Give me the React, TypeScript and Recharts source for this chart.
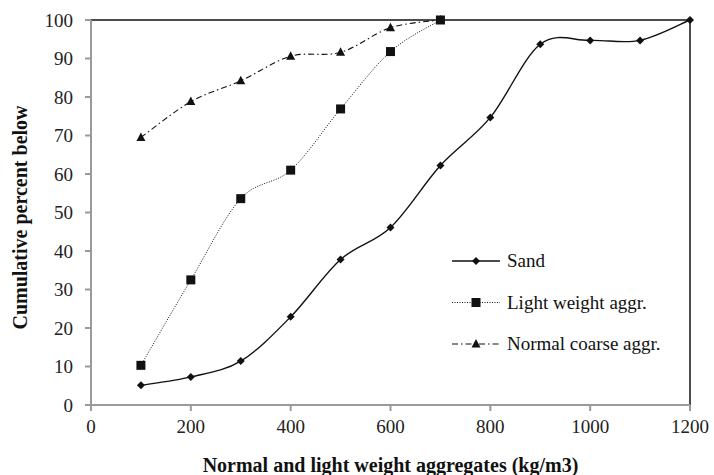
import React from 'react';
import {
  LineChart,
  Line,
  XAxis,
  YAxis,
  ReferenceLine,
} from 'recharts';

const sandX = [100, 200, 300, 400, 500, 600, 700, 800, 900, 1000, 1100, 1200];
const sandY = [5.1, 7.3, 11.4, 22.9, 37.8, 46.1, 62.2, 74.7, 93.7, 94.7, 94.7, 100];
const lightX = [100, 200, 300, 400, 500, 600, 700];
const lightY = [10.3, 32.5, 53.6, 61.0, 76.9, 91.8, 100];
const normalX = [100, 200, 300, 400, 500, 600, 700];
const normalY = [69.5, 78.8, 84.2, 90.6, 91.6, 98.0, 100];

const xTicks = [0, 200, 400, 600, 800, 1000, 1200];
const yTicks = [0, 10, 20, 30, 40, 50, 60, 70, 80, 90, 100];

const toRows = (xs: number[], ys: number[]) => xs.map((x, i) => ({ x, y: ys[i] }));
const sandData = toRows(sandX, sandY);
const lightData = toRows(lightX, lightY);
const normalData = toRows(normalX, normalY);

const FONT = '"Liberation Serif", "Times New Roman", serif';
const AXIS_GRAY = '#9a9a9a';

// Excel-like smoothed line (Catmull-Rom through the points)
function excelCurve(context: any) {
  let pts: [number, number][] = [];
  return {
    areaStart() {},
    areaEnd() {},
    lineStart() {
      pts = [];
    },
    point(x: number, y: number) {
      pts.push([+x, +y]);
    },
    lineEnd() {
      if (!pts.length) return;
      context.moveTo(pts[0][0], pts[0][1]);
      for (let i = 0; i < pts.length - 1; i++) {
        const p0 = pts[Math.max(i - 1, 0)];
        const p1 = pts[i];
        const p2 = pts[i + 1];
        const p3 = pts[Math.min(i + 2, pts.length - 1)];
        context.bezierCurveTo(
          p1[0] + (p2[0] - p0[0]) / 6,
          p1[1] + (p2[1] - p0[1]) / 6,
          p2[0] - (p3[0] - p1[0]) / 6,
          p2[1] - (p3[1] - p1[1]) / 6,
          p2[0],
          p2[1]
        );
      }
    },
  };
}

const Diamond = ({ cx, cy }: any) =>
  cx == null ? null : (
    <path d={`M${cx},${cy - 4}L${cx + 4},${cy}L${cx},${cy + 4}L${cx - 4},${cy}Z`} fill="#111" />
  );
const Square = ({ cx, cy }: any) =>
  cx == null ? null : <rect x={cx - 4.5} y={cy - 4.5} width={9} height={9} fill="#111" />;
const Triangle = ({ cx, cy }: any) =>
  cx == null ? null : (
    <path d={`M${cx},${cy - 5}L${cx + 4.5},${cy + 3.5}L${cx - 4.5},${cy + 3.5}Z`} fill="#111" />
  );

const series = [
  { name: 'Sand', data: sandData, dash: undefined, width: 1.4, Dot: Diamond },
  { name: 'Light weight aggr.', data: lightData, dash: '1 1.5', width: 1, Dot: Square },
  { name: 'Normal coarse aggr.', data: normalData, dash: '6 3 1.5 3', width: 1.1, Dot: Triangle },
];

const LegendBox = () => (
  <svg width={260} height={110} style={{ position: 'absolute', left: 448, top: 245 }}>
    {series.map((s, i) => {
      const y = 16 + i * 41.5;
      return (
        <g key={s.name}>
          <line x1={4} x2={52} y1={y} y2={y} stroke="#111" strokeWidth={s.width} strokeDasharray={s.dash} />
          <s.Dot cx={28} cy={y} />
          <text x={59} y={y + 6} fontFamily={FONT} fontSize={19} fill="#111">
            {s.name}
          </text>
        </g>
      );
    })}
  </svg>
);

const YTitle = ({ viewBox }: any) => {
  const cx = 20;
  const cy = viewBox.y + viewBox.height / 2 + 5;
  return (
    <text
      x={cx}
      y={cy}
      transform={`rotate(-90 ${cx} ${cy})`}
      textAnchor="middle"
      dominantBaseline="central"
      fontFamily={FONT}
      fontSize={20}
      fontWeight="bold"
      fill="#111"
    >
      Cumulative percent below
    </text>
  );
};

export default function App() {
  return (
    <div style={{ position: 'absolute', left: 0, top: 0, width: 714, height: 475, background: '#fff' }}>
      <LineChart width={714} height={475} margin={{ top: 20, right: 24, bottom: 0, left: 0 }}>
        <XAxis
          type="number"
          dataKey="x"
          domain={[0, 1200]}
          ticks={xTicks}
          height={70}
          stroke={AXIS_GRAY}
          strokeWidth={2}
          tickSize={6}
          tickMargin={9}
          tick={{ fill: '#222', fontSize: 19, fontFamily: FONT }}
          label={{
            value: 'Normal and light weight aggregates (kg/m3)',
            position: 'insideBottom',
            offset: 3,
            fill: '#111',
            fontSize: 20,
            fontWeight: 'bold',
            fontFamily: FONT,
          }}
        />
        <YAxis
          type="number"
          domain={[0, 100]}
          ticks={yTicks}
          width={91}
          stroke={AXIS_GRAY}
          strokeWidth={2}
          tickSize={6}
          tickMargin={12}
          tick={{ fill: '#222', fontSize: 19, fontFamily: FONT }}
          label={<YTitle />}
        />
        <ReferenceLine y={100} stroke="#111" strokeWidth={1.5} />
        <ReferenceLine x={1200} stroke="#111" strokeWidth={1.5} />
        {series.map((s) => (
          <Line
            key={s.name}
            data={s.data}
            dataKey="y"
            name={s.name}
            type={excelCurve as any}
            stroke="#111"
            strokeWidth={s.width}
            strokeDasharray={s.dash}
            dot={<s.Dot />}
            activeDot={false}
            isAnimationActive={false}
          />
        ))}
      </LineChart>
      <LegendBox />
    </div>
  );
}
